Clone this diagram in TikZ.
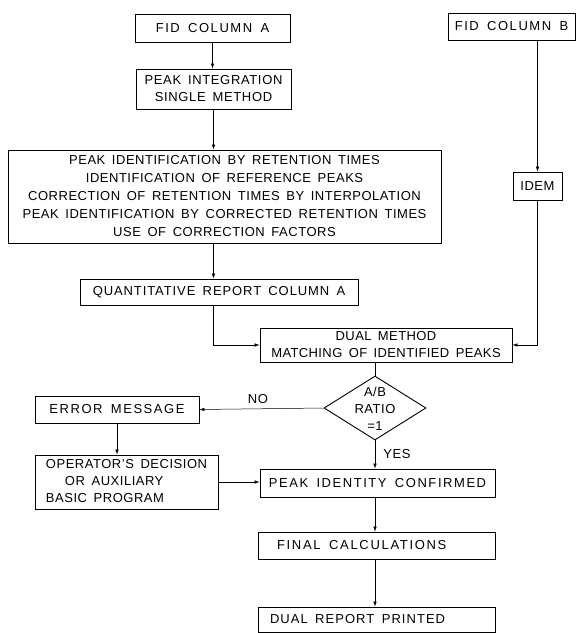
\documentclass[tikz,border=0pt]{standalone}
\usepackage{fontspec}
\setmainfont{Liberation Sans}[LetterSpace=4,WordSpace=1.6]
\usetikzlibrary{arrows.meta,shapes.geometric}

\begin{document}
\begin{tikzpicture}[x=1pt,y=-1pt]
		\tikzstyle{box}=[draw,line width=0.9pt,inner sep=0pt,align=center,font=\fontsize{13}{17}\selectfont]
		\tikzstyle{left-box}=[box,align=flush left,inner ysep=0pt]
		\tikzstyle{ratio-node}=[draw,line width=0.9pt,diamond,inner sep=0pt,minimum width=102pt,minimum height=64pt]
		\tikzstyle{tag}=[inner sep=0pt,font=\fontsize{13}{17}\selectfont]
		\tikzstyle{flow}=[-{Latex[length=5pt,width=3.5pt]},line width=0.5pt]
		\tikzset{spaced/.style={font=\fontsize{13}{17}\selectfont\addfontfeature{LetterSpace=#1}}}
		\useasboundingbox (0,0) rectangle (579,633);
		% column A
		\node [box,spaced=12,minimum width=155pt,minimum height=28pt] at (212.5,28) (fidA) {FID COLUMN A};
		\node [box,spaced=5,minimum width=155pt,minimum height=40pt] at (213.5,89) (integ) {PEAK INTEGRATION\\SINGLE METHOD};
		\node [box,minimum width=433pt,minimum height=93pt,font=\fontsize{13}{18}\selectfont] at (224.5,196.5) (ident) {PEAK IDENTIFICATION BY RETENTION TIMES\\IDENTIFICATION OF REFERENCE PEAKS\\CORRECTION OF RETENTION TIMES BY INTERPOLATION\\PEAK IDENTIFICATION BY CORRECTED RETENTION TIMES\\USE OF CORRECTION FACTORS};
		\node [box,spaced=7,minimum width=278pt,minimum height=26pt] at (219,292) (quant) {QUANTITATIVE REPORT COLUMN A};
		% column B
		\node [box,spaced=12,minimum width=127pt,minimum height=27pt] at (511.5,26.5) (fidB) {FID COLUMN B};
		\node [box,minimum width=49pt,minimum height=28pt] at (537.5,186) (idem) {IDEM};
		% dual method
		\node [box,spaced=3,minimum width=252pt,minimum height=34pt] at (386,345) (dual) {DUAL METHOD\\MATCHING OF IDENTIFIED PEAKS};
		\node [ratio-node] at (375,408) (ratio) {};
		\node [tag,align=center] at (375,409) (ratiotext) {A/B\\RATIO\\=1};
		\node [tag] at (258,399) (no) {NO};
		\node [tag] at (397,454) (yes) {YES};
		\node [box,spaced=12,minimum width=164pt,minimum height=27pt] at (117,409.5) (err) {ERROR MESSAGE};
		\node [box,minimum width=183pt,minimum height=54pt] at (126.5,482) (oper) {\begin{tabular}{@{\hspace{6pt}}l@{\hspace{6pt}}}OPERATOR'S DECISION\\\hspace{19pt}OR AUXILIARY\\BASIC PROGRAM\end{tabular}};
		\node [box,spaced=12,minimum width=235pt,minimum height=28pt] at (377.5,483) (confirm) {PEAK IDENTITY CONFIRMED};
		\node [left-box,spaced=13,text width=199pt,inner xsep=19pt,minimum height=27pt] at (376.5,545.5) (final) {FINAL CALCULATIONS};
		\node [left-box,spaced=8,text width=213pt,inner xsep=12pt,minimum height=25pt] at (376.5,619.5) (report) {DUAL REPORT PRINTED};
		% flow column A
		\draw [flow] (fidA.south) -- (fidA.south |- integ.north);
		\draw [flow] (integ.south) -- (integ.south |- ident.north);
		\draw [flow] (integ.south |- ident.south) -- (integ.south |- quant.north);
		\draw [flow] (integ.south |- quant.south) |- (dual.west);
		% flow column B
		\draw [flow] (idem.north |- fidB.south) -- (idem.north);
		\draw [flow] (idem.south) |- (dual.east);
		% decision
		\draw [line width=0.5pt] (ratio.north |- dual.south) -- (ratio.north);
		\draw [flow] (ratio.west) -- (err.east);
		\draw [flow] (err.south) -- (err.south |- oper.north);
		\draw [flow] (oper.east) -- (oper.east -| confirm.west);
		\draw [flow] (ratio.south) -- (ratio.south |- confirm.north);
		\draw [flow] (ratio.south |- confirm.south) -- (ratio.south |- final.north);
		\draw [flow] (ratio.south |- final.south) -- (ratio.south |- report.north);
	\end{tikzpicture}
\end{document}
